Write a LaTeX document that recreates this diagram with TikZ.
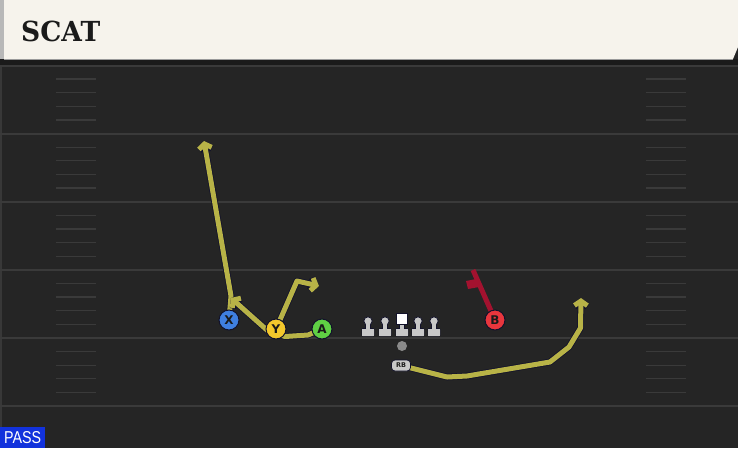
\documentclass[tikz,border=0pt]{standalone}
\usepackage{fontspec}
\usepackage{graphicx}
\setmainfont{DejaVu Sans}
\newfontfamily\titlefont{DejaVu Serif}
\newfontfamily\passfont{Liberation Sans}
\usetikzlibrary{arrows.meta}
\definecolor{fieldbg}{HTML}{252525}
\definecolor{fieldline}{HTML}{3A3A3A}
\definecolor{hashC}{HTML}{3A3A3A}
\definecolor{shadowC}{HTML}{1B1B1B}
\definecolor{headerC}{HTML}{F6F3EC}
\definecolor{headerstrip}{HTML}{B8B8B8}
\definecolor{headerline}{HTML}{9A9A9A}
\definecolor{leftstrip}{HTML}{383838}
\definecolor{routeC}{HTML}{B8B347}
\definecolor{outlineC}{HTML}{12122A}
\definecolor{redC}{HTML}{A3122F}
\definecolor{xblue}{HTML}{3F7FE0}
\definecolor{yyellow}{HTML}{F4C82C}
\definecolor{agreen}{HTML}{5FD044}
\definecolor{bred}{HTML}{E8363D}
\definecolor{letterC}{HTML}{1A1A1A}
\definecolor{lineC}{HTML}{C8C8C8}
\definecolor{ballC}{HTML}{8A8A8A}
\definecolor{passC}{HTML}{1232DC}
\pgfdeclarelayer{field}
\pgfdeclarelayer{routes}
\pgfsetlayers{field,routes,main}
\tikzset{
  fieldrule/.style={draw=fieldline, line width=2pt},
  hashmark/.style={draw=hashC, line width=1.3pt},
  player/.style={circle, minimum size=20pt, inner sep=0pt, draw=outlineC, line width=1pt,
    font=\fontsize{12}{12}\selectfont\bfseries, text=letterC},
  route/.style={draw=routeC, line width=5pt, line join=round,
    -{Straight Barb[length=4.5pt,width=13pt]},
    preaction={draw=outlineC, line width=6.6pt, line join=round, -{Straight Barb[length=4.5pt,width=13pt]}}},
  redroute/.style={draw=redC, line width=5pt, line join=miter},
  lineman/.style={fill=lineC},
  rbpill/.style={rounded corners=3.5pt, minimum width=19pt, minimum height=11pt, inner sep=0pt,
    fill=lineC, draw=outlineC, line width=0.7pt, font=\fontsize{6.5}{6.5}\selectfont\bfseries, text=letterC},
}
\begin{document}
\begin{tikzpicture}[x=1pt,y=-1pt]
\useasboundingbox (0,0) rectangle (738,448);
\begin{pgfonlayer}{field}
  \fill[fieldbg] (0,0) rectangle (738,448);
  \fill[leftstrip] (0,59) rectangle (2,448);
  \fill[shadowC] (0,59) rectangle (738,64.5);
  \foreach \k in {0,...,5} {
    \draw[fieldrule] (0,{65.5+68.1*\k}) -- (738,{65.5+68.1*\k});
  }
  \foreach \k in {0,...,4} {
    \foreach \j in {1,...,4} {
      \draw[hashmark] (56,{65.5+68.1*\k+13.62*\j}) -- (96,{65.5+68.1*\k+13.62*\j});
      \draw[hashmark] (646,{65.5+68.1*\k+13.62*\j}) -- (686,{65.5+68.1*\k+13.62*\j});
    }
  }
  \fill[headerC] (4,0) -- (738,0) -- (738,47) -- (733,59) -- (4,59) -- cycle;
  \fill[headerstrip] (0,0) rectangle (4,59);
  \draw[headerline, line width=0.8pt] (4,59) -- (733,59);
\end{pgfonlayer}

\node[anchor=south west, inner sep=0pt] (title) at (21,42.5)
  {\resizebox{79pt}{20.5pt}{\titlefont\bfseries\color{letterC}SCAT}};

% players
\node[player, fill=xblue] (X) at (229,320) {X};
\node[player, fill=yyellow] (Y) at (276,329) {Y};
\node[player, fill=agreen] (A) at (322,329) {A};
\node[player, fill=bred] (B) at (495,320) {B};

% offensive line
\foreach \x/\n in {368/LT,385/LG,418/RG,434/RT} {
  \coordinate (\n) at (\x,327);
  \filldraw[lineman, draw=outlineC, line width=0.8pt, rounded corners=1pt] (\x-6,328.5) rectangle (\x+6,336);
  \filldraw[lineman, draw=outlineC, line width=0.8pt] (\x-2.6,321) rectangle (\x+2.6,330);
  \filldraw[lineman, draw=outlineC, line width=0.8pt] (\x,321) circle (4.2);
  \fill[lineman] (\x-2.2,322) rectangle (\x+2.2,330);
  \fill[lineman] (\x-5.6,329) rectangle (\x+5.6,335.5);
}
\coordinate (C) at (402,325);
\filldraw[lineman, draw=outlineC, line width=0.8pt, rounded corners=1pt] (396,328.5) rectangle (408,336);
\filldraw[lineman, draw=outlineC, line width=0.8pt] (399.4,322) rectangle (404.6,330);
\fill[lineman] (399.8,323) rectangle (404.2,330);
\fill[lineman] (396.4,329) rectangle (407.6,335.5);
\filldraw[fill=white, draw=outlineC, line width=0.8pt] (396.5,313.5) rectangle (407.5,324);

\node[circle, fill=ballC, minimum size=10pt, inner sep=0pt] (ball) at (402,346) {};
\node[rbpill] (RB) at (401,365.5) {RB};

% route waypoints
\coordinate (x1) at (231,296);
\coordinate (xEnd) at (204,141);
\coordinate (y1) at (297,281);
\coordinate (yEnd) at (319,286);
\coordinate (a1) at (308,335);
\coordinate (a2) at (285,336.5);
\coordinate (a3) at (268,331);
\coordinate (aEnd) at (231,298);
\coordinate (r1) at (447,377);
\coordinate (r2) at (467,376);
\coordinate (r3) at (550,362);
\coordinate (r4) at (569,347);
\coordinate (r5) at (580.5,328);
\coordinate (rEnd) at (581,298);
\coordinate (bEnd) at (473,270);

\begin{pgfonlayer}{routes}
  \draw[route] (X.center) -- (x1) -- (xEnd);
  \draw[route] (A.center) -- (a1) -- (a2) -- (a3) -- (aEnd);
  \draw[route] (Y.center) -- (y1) -- (yEnd);
  \draw[route] (RB.center) -- (r1) -- (r2) -- (r3) -- (r4) -- (r5) -- (rEnd);
  \draw[redroute] (B.center) -- (bEnd);
  \fill[redC] (476,279) -- (466,281) -- (468,289) -- (479,287) -- cycle;
\end{pgfonlayer}

\node[fill=passC, anchor=south west, minimum width=45pt, minimum height=20.5pt, inner sep=0pt] (pass) at (0,448)
  {\resizebox{37pt}{12pt}{\passfont\color{white}PASS}};
\end{tikzpicture}
\end{document}
